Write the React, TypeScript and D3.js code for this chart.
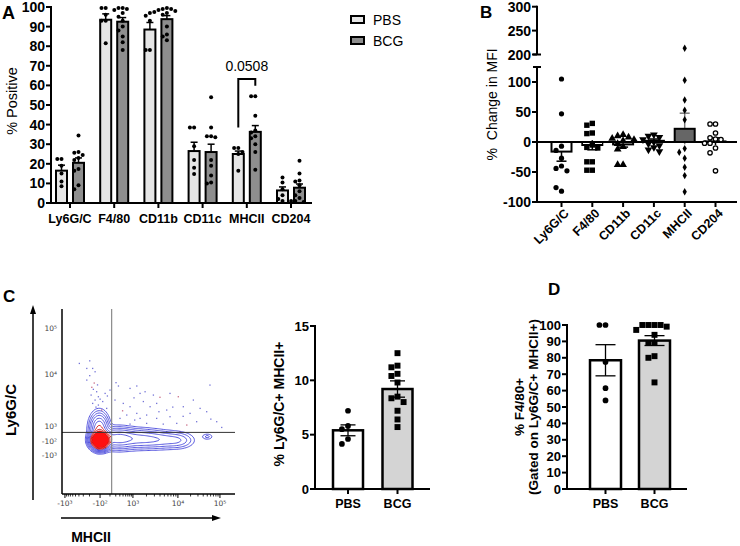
import React from 'react';
import * as d3 from 'd3';

const FONT = '"Liberation Sans", Arial, Helvetica, sans-serif';

// ---------- A: % positive per marker
const markers = ['Ly6G/C', 'F4/80', 'CD11b', 'CD11c', 'MHCII', 'CD204'];
const groups = ['PBS', 'BCG'];
const pbsMean = [16.5, 93.5, 88.5, 26.5, 25, 6.4];
const pbsSem = [2.8, 3, 3.6, 4.5, 1.5, 1.8];
const bcgMean = [20.5, 92.5, 93.8, 26, 36.3, 7.8];
const bcgSem = [2.5, 2.1, 1.8, 4, 3.2, 1.9];
const pbsPoints = [
  [22.5, 22.5, 19, 15, 11, 8.5],
  [99.5, 99.5, 96, 93, 93, 81.5],
  [97, 95.5, 93, 78, 78],
  [38.5, 38.5, 29, 22, 18, 14.8],
  [28, 28, 26, 25, 16.5],
  [13, 10.5, 7, 4, 2, 1],
];
const bcgPoints = [
  [34.5, 26, 25.7, 24.5, 23, 22, 17.3, 16.5, 9, 7],
  [99.5, 99.5, 99, 98.5, 97, 95, 93, 90, 88, 85, 82, 78],
  [99.5, 99, 99, 98.5, 98, 97.5, 97, 96, 90, 86, 85, 83],
  [54, 38.5, 34, 34, 33.5, 22, 19, 14, 10.5, 10],
  [54.5, 54.5, 44.5, 37, 36, 34, 33, 30, 26, 17],
  [21.5, 15, 11.5, 11, 9, 6, 4, 2.5, 1, 0.5, 1],
];
const percentTicks = [0, 10, 20, 30, 40, 50, 60, 70, 80, 90, 100];
const mhcPValue = '0.0508';
const bracketLevels = [38.5, 63.3, 59.8]; // left foot, top, right foot

// ---------- B: % change in MFI
const mfiMean = [-16, -5, -4, 2, 22, 1];
const mfiSem = [16, 8, 4.5, 3, 26, 6];
const mfiPoints = [
  [105, 47, -7, -14, -27, -40, -44, -48, -82, -76],
  [31, 28, 15, 14, -5, -9, -10, -33, -33, -47, -47],
  [12, 10, 8, 6, 4, 2, -3, -8, -12, -38, -38],
  [12, 10, 8, 4, 0, -3, -6, -9, -13, -16],
  [213, 103, 70, 53, 37, -11, -17, -27, -42, -56, -83],
  [30, 30, 15, 7, 5, 4, -2, -2, -10, -18, -48],
];
const mfiLowerTicks = [-100, -50, 0, 50, 100];
const mfiUpperTicks = [200, 250, 300];

// ---------- C: flow plot (channel units 0-1000)
const flowXTicks = [17, 220, 410, 670, 913];
const flowXLabels = ['-10³', '-10²', '10³', '10⁴', '10⁵'];
const flowYTicks = [897, 649, 368, 286, 211];
const flowYLabels = ['10⁵', '10⁴', '10³', '-10²', '-10³'];
const flowGate = [287, 333];
const flowPopulations = [
  { x: 220, y: 290, sx: 25, sy: 22, w: 1 },
  { x: 215, y: 350, sx: 28, sy: 45, w: 0.12 },
  { x: 320, y: 300, sx: 60, sy: 30, w: 0.09 },
  { x: 450, y: 298, sx: 70, sy: 28, w: 0.05 },
  { x: 570, y: 293, sx: 70, sy: 26, w: 0.035 },
  { x: 675, y: 290, sx: 50, sy: 24, w: 0.022 },
  { x: 840, y: 310, sx: 20, sy: 10, w: 0.012 },
];
const flowEvents = [
  [100, 706], [143, 679], [177, 679], [191, 661], [172, 577], [181, 566], [200, 553], [168, 535],
  [210, 526], [191, 508], [220, 513], [177, 490], [210, 481], [229, 454], [258, 463], [312, 602],
  [326, 584], [393, 571], [432, 584], [451, 544], [480, 553], [528, 535], [566, 523], [605, 454],
  [306, 508], [354, 490], [393, 472], [432, 436], [489, 427], [547, 409], [624, 418], [672, 526],
  [701, 472], [740, 436], [798, 463], [836, 445], [855, 589], [923, 360], [894, 391], [778, 391],
  [721, 373], [663, 382], [585, 378], [489, 382], [393, 378], [335, 409], [374, 427], [451, 409],
  [605, 337], [682, 337], [143, 616], [277, 562], [249, 544], [547, 490], [759, 508], [624, 544],
  [509, 472], [160, 640], [186, 600], [205, 590], [235, 500], [262, 530], [416, 520], [470, 500],
  [640, 470], [700, 420], [560, 445], [350, 450], [420, 400], [860, 405], [160, 720], [196, 470],
];
const blueLevels = [0.005, 0.01, 0.018, 0.03, 0.05, 0.075];
const redLevels = [0.11, 0.15, 0.2];

// ---------- C right: % Ly6G/C+ MHCII+
const dpMean = [5.4, 9.2];
const dpSem = [0.5, 0.75];
const dpPoints = [
  [7.2, 5.8, 5.5, 4.6, 4.15],
  [12.5, 11.35, 11.2, 10.6, 10.4, 9.8, 8.5, 8.35, 8.0, 7.2, 6.4, 5.7],
];
const dpTicks = [0, 5, 10, 15];

// ---------- D: % F4/80+
const f480Mean = [78.5, 90.5];
const f480Sem = [9.5, 3];
const f480Points = [
  [100, 100, 77.5, 61.5, 54],
  [100, 100, 100, 100, 99, 97, 94, 89, 89, 81, 80, 65],
];

function swarm(values: number[], y: (v: number) => number, r: number) {
  const placed: { dx: number; py: number }[] = [];
  const step = r * 2.1;
  return values.map((v) => {
    const py = y(v);
    for (let k = 0; k < 30; k++) {
      const dx = k === 0 ? 0 : (k % 2 ? -1 : 1) * Math.ceil(k / 2) * step;
      if (placed.every((p) => (p.dx - dx) ** 2 + (p.py - py) ** 2 >= (2 * r) ** 2)) {
        placed.push({ dx, py });
        return { v, dx, py };
      }
    }
    placed.push({ dx: 0, py });
    return { v, dx: 0, py };
  });
}

function Marker({ kind, x, y, s = 1 }: { kind: string; x: number; y: number; s?: number }) {
  if (kind === 'square') return <rect x={x - 2.7 * s} y={y - 2.7 * s} width={5.4 * s} height={5.4 * s} fill="#000" />;
  if (kind === 'open') return <circle cx={x} cy={y} r={2.2 * s} fill="#fff" stroke="#000" strokeWidth={1.3} />;
  if (kind === 'circle') return <circle cx={x} cy={y} r={2.6 * s} fill="#000" />;
  const sym = kind === 'diamond' ? d3.symbolDiamond : d3.symbolTriangle;
  const size = kind === 'diamond' ? 16 * s : 26 * s;
  const rot = kind === 'triDown' ? 180 : 0;
  return <path d={d3.symbol(sym, size)() || ''} transform={`translate(${x},${y}) rotate(${rot})`} fill="#000" />;
}

function PanelA() {
  const x = d3.scalePoint<string>().domain(markers).range([70, 291]);
  const y = d3.scaleLinear().domain([0, 100]).range([203, 7]);
  const off = d3.scalePoint<string>().domain(groups).range([-8.5, 8.5]);
  const barW = 11;
  const series = [
    { g: 'PBS', mean: pbsMean, sem: pbsSem, pts: pbsPoints, fill: '#e6e6e6' },
    { g: 'BCG', mean: bcgMean, sem: bcgSem, pts: bcgPoints, fill: '#8e8e8e' },
  ];
  const bl = x('MHCII')! + off('PBS')!;
  const br = x('MHCII')! + off('BCG')!;
  return (
    <g>
      <text x={2} y={19} fontSize={18} fontWeight="bold">A</text>
      {series.map((s) =>
        markers.map((m, i) => {
          const cx = x(m)! + off(s.g)!;
          return (
            <g key={s.g + m}>
              <line x1={cx} x2={cx} y1={y(s.mean[i] - s.sem[i])} y2={y(s.mean[i] + s.sem[i])} stroke="#000" strokeWidth={1.5} />
              <line x1={cx - 3.5} x2={cx + 3.5} y1={y(s.mean[i] + s.sem[i])} y2={y(s.mean[i] + s.sem[i])} stroke="#000" strokeWidth={1.5} />
              <rect x={cx - barW / 2} y={y(s.mean[i])} width={barW} height={y(0) - y(s.mean[i])} fill={s.fill} stroke="#000" strokeWidth={2} />
              {swarm(s.pts[i], y, 2).map((p, k) => (
                <circle key={k} cx={cx + p.dx} cy={p.py} r={2} fill="#000" />
              ))}
            </g>
          );
        })
      )}
      <line x1={51} x2={51} y1={6} y2={204} stroke="#000" strokeWidth={2} />
      <line x1={50} x2={312} y1={203} y2={203} stroke="#000" strokeWidth={2} />
      {percentTicks.map((t) => (
        <g key={t}>
          <line x1={46} x2={51} y1={y(t)} y2={y(t)} stroke="#000" strokeWidth={2} />
          <text x={45} y={y(t) + 5} textAnchor="end" fontSize={14} fontWeight="bold">{t}</text>
        </g>
      ))}
      {markers.map((m) => (
        <g key={m}>
          <line x1={x(m)} x2={x(m)} y1={203} y2={208} stroke="#000" strokeWidth={2} />
          <text x={x(m)} y={223} textAnchor="middle" fontSize={12.5} fontWeight="bold">{m}</text>
        </g>
      ))}
      <text transform="translate(17,101) rotate(-90)" textAnchor="middle" fontSize={14.5}>% Positive</text>
      <path d={`M${bl},${y(bracketLevels[0])}V${y(bracketLevels[1])}H${br}V${y(bracketLevels[2])}`} fill="none" stroke="#000" strokeWidth={2} />
      <text x={(bl + br) / 2} y={y(bracketLevels[1]) - 8} textAnchor="middle" fontSize={14}>{mhcPValue}</text>
      {series.map((s, i) => (
        <g key={s.g}>
          <rect x={351} y={16 + i * 21} width={13} height={7} fill={s.fill} stroke="#000" strokeWidth={2} />
          <text x={373} y={24.5 + i * 21} fontSize={14}>{s.g}</text>
        </g>
      ))}
    </g>
  );
}

function PanelB() {
  const ax = 537;
  const x = d3.scalePoint<string>().domain(markers).range([561.5, 715.5]);
  const yLow = d3.scaleLinear().domain([-100, 125]).range([202, 67]);
  const yUp = d3.scaleLinear().domain([200, 300]).range([54.5, 6.7]);
  const yv = (v: number) => (v > 150 ? yUp(v) : yLow(v));
  const kinds = ['circle', 'square', 'triangle', 'triDown', 'diamond', 'open'];
  return (
    <g>
      <text x={480} y={18} fontSize={17} fontWeight="bold">B</text>
      {markers.map((m, i) => {
        const cx = x(m)!;
        const mean = mfiMean[i];
        const tip = mean + Math.sign(mean) * mfiSem[i];
        const dark = m === 'MHCII';
        return (
          <g key={m}>
            <line x1={cx} x2={cx} y1={yLow(mean - Math.sign(mean) * mfiSem[i])} y2={yLow(tip)} stroke={dark ? '#7a7a7a' : '#000'} strokeWidth={1.5} />
            <line x1={cx - 5} x2={cx + 5} y1={yLow(tip)} y2={yLow(tip)} stroke={dark ? '#7a7a7a' : '#000'} strokeWidth={1.5} />
            <rect x={cx - 10} y={Math.min(yLow(0), yLow(mean))} width={20} height={Math.abs(yLow(0) - yLow(mean))} fill={dark ? '#666' : '#fff'} stroke="#000" strokeWidth={2} />
          </g>
        );
      })}
      <line x1={ax} x2={737} y1={yLow(0)} y2={yLow(0)} stroke="#000" strokeWidth={2} />
      {markers.map((m, i) =>
        swarm(mfiPoints[i], yv, 2.6).map((p, k) => <Marker key={m + k} kind={kinds[i]} x={x(m)! + p.dx} y={p.py} />)
      )}
      <line x1={ax} x2={ax} y1={yUp(300) - 1} y2={yUp(200)} stroke="#000" strokeWidth={2} />
      <line x1={ax - 4} x2={ax + 4} y1={yUp(200)} y2={yUp(200)} stroke="#000" strokeWidth={2} />
      <line x1={ax} x2={ax} y1={yLow(125)} y2={yLow(-100) + 1} stroke="#000" strokeWidth={2} />
      <line x1={ax - 4} x2={ax + 4} y1={yLow(125)} y2={yLow(125)} stroke="#000" strokeWidth={2} />
      <line x1={ax - 1} x2={737} y1={yLow(-100)} y2={yLow(-100)} stroke="#000" strokeWidth={2} />
      {[...mfiUpperTicks.map((t) => [t, yUp(t)]), ...mfiLowerTicks.map((t) => [t, yLow(t)])].map(([t, py]) => (
        <g key={t}>
          <line x1={ax - 5} x2={ax} y1={py} y2={py} stroke="#000" strokeWidth={2} />
          <text x={ax - 6} y={py + 5} textAnchor="end" fontSize={14} fontWeight="bold">{t}</text>
        </g>
      ))}
      {markers.map((m) => (
        <g key={m}>
          <line x1={x(m)} x2={x(m)} y1={yLow(-100)} y2={yLow(-100) + 5} stroke="#000" strokeWidth={2} />
          <text transform={`translate(${x(m)! + 5},${yLow(-100) + 9}) rotate(-45)`} textAnchor="end" dy="0.35em" fontSize={12.5} fontWeight="bold">{m}</text>
        </g>
      ))}
      <text transform={`translate(497,${(yUp(300) + yLow(-100)) / 2}) rotate(-90)`} textAnchor="middle" fontSize={14} style={{ whiteSpace: 'pre' }}>{'%  Change in MFI'}</text>
    </g>
  );
}

function FlowPlot() {
  const fx = d3.scaleLinear().domain([0, 1000]).range([62, 235]);
  const fy = d3.scaleLinear().domain([0, 1000]).range([494, 309]);
  const n = 150;
  const values = new Array(n * n);
  for (let j = 0; j < n; j++) {
    for (let i = 0; i < n; i++) {
      const cx = (i / (n - 1)) * 1000;
      const cy = (j / (n - 1)) * 1000;
      let s = 0;
      for (const p of flowPopulations) {
        s += p.w * Math.exp(-(((cx - p.x) ** 2) / (2 * p.sx * p.sx) + ((cy - p.y) ** 2) / (2 * p.sy * p.sy)));
      }
      values[j * n + i] = s;
    }
  }
  const levels = [...blueLevels, ...redLevels];
  const contours = d3.contours().size([n, n]).thresholds(levels)(values);
  const proj = d3.geoTransform({
    point(px: number, py: number) {
      (this as any).stream.point(fx(((px - 0.5) / (n - 1)) * 1000), fy(((py - 0.5) / (n - 1)) * 1000));
    },
  });
  const path = d3.geoPath(proj);
  const minor: number[] = [];
  flowXTicks.slice(0, -1).forEach((a, idx) => {
    const b = flowXTicks[idx + 1];
    for (let k = 2; k <= 9; k++) {
      minor.push(idx === 0 ? b - (b - a) * Math.log10(k) : a + (b - a) * Math.log10(k));
    }
  });
  return (
    <g>
      <text x={3} y={302} fontSize={17} fontWeight="bold">C</text>
      <defs>
        <clipPath id="flowclip">
          <rect x={fx(0)} y={fy(1000)} width={fx(1000) - fx(0)} height={fy(0) - fy(1000)} />
        </clipPath>
      </defs>
      <g clipPath="url(#flowclip)">
        {flowEvents.map(([ex, ey], k) => (
          <rect key={k} x={fx(ex) - 0.6} y={fy(ey) - 0.6} width={1.3} height={1.3} fill={k % 9 === 4 ? '#c05070' : '#5a5ad0'} opacity={0.85} />
        ))}
        {contours.map((c) => {
          const isRed = redLevels.includes(c.value);
          const isTop = c.value === redLevels[redLevels.length - 1];
          return (
            <path key={c.value} d={path(c as any) || ''} fill={isTop ? '#ff1010' : 'none'} stroke={isRed ? '#d00000' : '#3a3ad8'} strokeWidth={0.85} />
          );
        })}
        <line x1={fx(flowGate[0])} x2={fx(flowGate[0])} y1={fy(1000)} y2={fy(0)} stroke="#8a8a8a" strokeWidth={1.2} />
        <line x1={fx(0)} x2={fx(1000)} y1={fy(flowGate[1])} y2={fy(flowGate[1])} stroke="#333" strokeWidth={1} />
      </g>
      <line x1={fx(0)} x2={fx(0)} y1={fy(1000)} y2={fy(0)} stroke="#000" strokeWidth={1.5} />
      <line x1={fx(0)} x2={fx(1000)} y1={fy(0)} y2={fy(0)} stroke="#000" strokeWidth={1.5} />
      {minor.map((m, k) => (
        <line key={k} x1={fx(m)} x2={fx(m)} y1={fy(0)} y2={fy(0) + 2.5} stroke="#000" strokeWidth={0.8} />
      ))}
      {flowXTicks.map((t) => (
        <line key={t} x1={fx(t)} x2={fx(t)} y1={fy(0)} y2={fy(0) + 4} stroke="#000" strokeWidth={1} />
      ))}
      {flowXTicks.map((t, k) => (
        <text key={t} x={fx(t)} y={fy(0) + 12} textAnchor="middle" fontSize={7.5} fill="#444" fontFamily="DejaVu Sans">{flowXLabels[k]}</text>
      ))}
      {flowYTicks.map((t, k) => (
        <text key={t} x={fx(0) - 5} y={fy(t) + 3} textAnchor="end" fontSize={7.5} fill="#444" fontFamily="DejaVu Sans">{flowYLabels[k]}</text>
      ))}
      <line x1={33} x2={33} y1={500} y2={312} stroke="#000" strokeWidth={1.5} />
      <path d="M33,305L30,314L36,314Z" fill="#000" />
      <line x1={61} x2={214} y1={518} y2={518} stroke="#000" strokeWidth={1.5} />
      <path d="M221,518L212,515L212,521Z" fill="#000" />
      <text transform="translate(16,410) rotate(-90)" textAnchor="middle" fontSize={15} fontWeight="bold">Ly6G/C</text>
      <text x={91} y={542} textAnchor="middle" fontSize={14} fontWeight="bold">MHCII</text>
    </g>
  );
}

function GroupPanel(props: {
  axisX: number; axisRight: number; y: d3.ScaleLinear<number, number>; ticks: number[];
  centers: [number, number]; barW: number; capW: number; mean: number[]; sem: number[]; points: number[][];
}) {
  const { axisX, axisRight, y, ticks, centers, barW, capW, mean, sem, points } = props;
  const x = d3.scalePoint<string>().domain(groups).range(centers);
  const fills = ['#fff', '#d4d4d4'];
  const kinds = ['circle', 'square'];
  return (
    <g>
      {groups.map((g, i) => {
        const cx = x(g)!;
        return (
          <g key={g}>
            <rect x={cx - barW / 2} y={y(mean[i])} width={barW} height={y(0) - y(mean[i])} fill={fills[i]} stroke="#000" strokeWidth={2.5} />
            <line x1={cx} x2={cx} y1={y(mean[i] - sem[i])} y2={y(mean[i] + sem[i])} stroke="#000" strokeWidth={1.3} />
            <line x1={cx - capW / 2} x2={cx + capW / 2} y1={y(mean[i] + sem[i])} y2={y(mean[i] + sem[i])} stroke="#000" strokeWidth={1.3} />
            <line x1={cx - capW / 2} x2={cx + capW / 2} y1={y(mean[i] - sem[i])} y2={y(mean[i] - sem[i])} stroke="#000" strokeWidth={1.3} />
            {swarm(points[i], y, 2.9).map((p, k) => (
              <Marker key={k} kind={kinds[i]} x={cx + p.dx} y={p.py} s={1.1} />
            ))}
            <line x1={cx} x2={cx} y1={y(0)} y2={y(0) + 5} stroke="#000" strokeWidth={2} />
            <text x={cx} y={y(0) + 19} textAnchor="middle" fontSize={12.5} fontWeight="bold">{g}</text>
          </g>
        );
      })}
      <line x1={axisX} x2={axisX} y1={y(ticks[ticks.length - 1]) - 1} y2={y(0)} stroke="#000" strokeWidth={2} />
      <line x1={axisX - 1} x2={axisRight} y1={y(0)} y2={y(0)} stroke="#000" strokeWidth={2} />
      {ticks.map((t) => (
        <g key={t}>
          <line x1={axisX - 5} x2={axisX} y1={y(t)} y2={y(t)} stroke="#000" strokeWidth={2} />
          <text x={axisX - 6} y={y(t) + 4.5} textAnchor="end" fontSize={13} fontWeight="bold">{t}</text>
        </g>
      ))}
    </g>
  );
}

export default function App() {
  const yC = d3.scaleLinear().domain([0, 15]).range([489, 326]);
  const yD = d3.scaleLinear().domain([0, 100]).range([489, 325]);
  return (
    <svg width={740} height={546} viewBox="0 0 740 546" style={{ position: 'absolute', left: 0, top: 0 }} fontFamily={FONT}>
      <rect width={740} height={546} fill="#fff" />
      <PanelA />
      <PanelB />
      <FlowPlot />
      <GroupPanel axisX={315} axisRight={430} y={yC} ticks={dpTicks} centers={[348, 397.5]} barW={30} capW={15} mean={dpMean} sem={dpSem} points={dpPoints} />
      <text transform="translate(284,404) rotate(-90)" textAnchor="middle" fontSize={14} fontWeight="bold">% Ly6G/C+ MHCII+</text>
      <GroupPanel axisX={567} axisRight={687} y={yD} ticks={percentTicks} centers={[605.5, 654.5]} barW={31} capW={20} mean={f480Mean} sem={f480Sem} points={f480Points} />
      <text x={548} y={295} fontSize={17} fontWeight="bold">D</text>
      <text transform="translate(524,407) rotate(-90)" textAnchor="middle" fontSize={13.5} fontWeight="bold">% F4/80+</text>
      <text transform="translate(538,407) rotate(-90)" textAnchor="middle" fontSize={13.5} fontWeight="bold">(Gated on Ly6G/C+ MHCII+)</text>
    </svg>
  );
}
